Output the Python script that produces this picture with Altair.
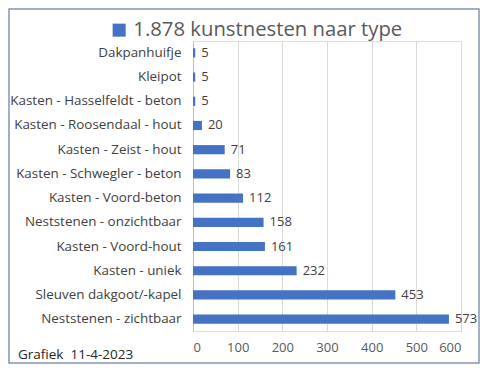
import altair as alt
import pandas as pd

categories = [
    "Dakpanhuifje", "Kleipot", "Kasten - Hasselfeldt - beton",
    "Kasten - Roosendaal - hout", "Kasten - Zeist - hout",
    "Kasten - Schwegler - beton", "Kasten - Voord-beton",
    "Neststenen - onzichtbaar", "Kasten - Voord-hout", "Kasten - uniek",
    "Sleuven dakgoot/-kapel", "Neststenen - zichtbaar",
]
values = [5, 5, 5, 20, 71, 83, 112, 158, 161, 232, 453, 573]
series_name = "1.878 kunstnesten naar type"
footer = "Grafiek \u00a011-4-2023"
x_ticks = [0, 100, 200, 300, 400, 500, 600]

df = pd.DataFrame({"type": categories, "aantal": values, "serie": series_name})

W, H = 268, 290
PL, PT, PR, PB = 185, 33, 19, 33
FONT = "Open Sans"

y_enc = alt.Y("type:N", sort=categories, title=None,
              scale=alt.Scale(paddingInner=0.62, paddingOuter=0.3),
              axis=alt.Axis(labelFontSize=13.4, labelColor="#404040", labelFont=FONT,
                            ticks=False, labelPadding=12, domainColor="#BFBFBF",
                            grid=False))
x_enc = alt.X("aantal:Q", title=None,
              scale=alt.Scale(domain=[0, 600], nice=False),
              axis=alt.Axis(values=x_ticks, labelFontSize=13, labelColor="#595959",
                            labelFont=FONT, ticks=False, domain=False,
                            labelPadding=10, gridColor="#D9D9D9", grid=True))

bars = alt.Chart(df).mark_bar(color="#4472C4").encode(
    x=x_enc, y=y_enc,
    color=alt.Color("serie:N", scale=alt.Scale(range=["#4472C4"]), title=None,
                    legend=alt.Legend(orient="none", legendX=-84, legendY=-21,
                                      symbolType="square", symbolSize=170,
                                      symbolStrokeWidth=0,
                                      labelFontSize=20.3, labelColor="#595959",
                                      labelFont=FONT, labelLimit=400)),
)

labels = alt.Chart(df).mark_text(align="left", baseline="middle", dx=6,
                                 fontSize=13, color="#404040", font=FONT).encode(
    x="aantal:Q", y=alt.Y("type:N", sort=categories), text="aantal:Q")

foot = alt.Chart(pd.DataFrame({"t": [footer]})).mark_text(
    align="left", baseline="middle", fontSize=13.5, color="#262626", font=FONT).encode(
    x=alt.value(-175), y=alt.value(H + 24), text="t:N")

frame = alt.Chart(pd.DataFrame({"t": [0]})).mark_rect(
    fill=None, stroke="#8497B0", strokeWidth=1.5).encode(
    x=alt.value(-PL + 1), x2=alt.value(W + PR - 1),
    y=alt.value(-PT + 1), y2=alt.value(H + PB - 1))

chart = alt.layer(frame, bars, labels, foot).properties(
    width=W, height=H,
    autosize=alt.AutoSizeParams(type="none"),
    padding={"left": PL, "top": PT, "right": PR, "bottom": PB},
).configure_view(stroke=None).configure(background="white")

chart.save("out.html", embed_options={"renderer": "svg", "actions": False})
